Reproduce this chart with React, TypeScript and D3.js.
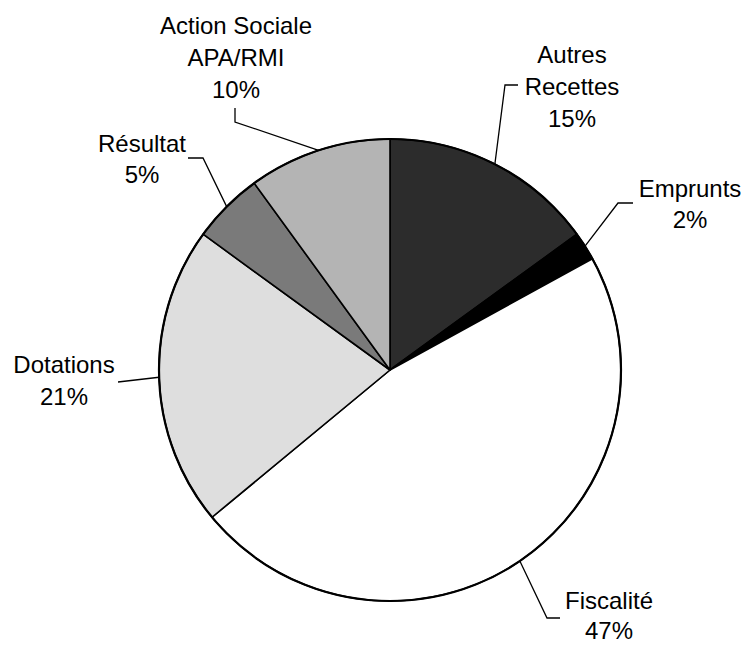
import React from "react";
import * as d3 from "d3";

const categories = ["Autres Recettes", "Emprunts", "Fiscalité", "Dotations", "Résultat", "Action Sociale APA/RMI"];
const values = [15, 2, 47, 21, 5, 10];
const labelLines = [
  ["Autres", "Recettes", "15%"],
  ["Emprunts", "2%"],
  ["Fiscalité", "47%"],
  ["Dotations", "21%"],
  ["Résultat", "5%"],
  ["Action Sociale", "APA/RMI", "10%"],
];
const fills = ["#2c2c2c", "#000000", "#ffffff", "#dedede", "#7a7a7a", "#b4b4b4"];

// layout (label anchors and leader elbows)
const W = 744, H = 645;
const CX = 390, CY = 370, R = 231;
const labelLayout = [
  { cx: 572, base: 63, lh: 32, leader: [[505, 85], [518, 85]] },
  { cx: 690, base: 197, lh: 31, leader: [[618, 203], [633, 203]] },
  { cx: 609, base: 609, lh: 30, leader: [[547, 618], [560, 618]] },
  { cx: 64, base: 373, lh: 32, leader: [[118, 382]] },
  { cx: 142, base: 152, lh: 31, leader: [[203, 158], [188, 158]] },
  { cx: 236, base: 34, lh: 32, leader: [[235, 122], [235, 108]] },
];

export default function App() {
  const data = categories.map((c, i) => ({ c, v: values[i], i }));
  const pie = d3.pie<any>().sort(null).value((d: any) => d.v).startAngle(0).endAngle(2 * Math.PI);
  const arcs = pie(data);
  const arcGen = d3.arc<any>().innerRadius(0).outerRadius(R);
  const line = d3.line();

  return (
    <svg width={W} height={H} style={{ position: "absolute", left: 0, top: 0, background: "#fff" }}
      fontFamily="'Liberation Sans', Arial, sans-serif">
      <g transform={`translate(${CX},${CY})`}>
        {arcs.map((a, i) => (
          <path key={i} d={arcGen(a) as string} fill={fills[i]} stroke="#000" strokeWidth={1.6} strokeLinejoin="round" />
        ))}
        <circle r={R} fill="none" stroke="#000" strokeWidth={2.2} />
      </g>
      {arcs.map((a, i) => {
        const mid = (a.startAngle + a.endAngle) / 2;
        const ex = CX + R * Math.sin(mid);
        const ey = CY - R * Math.cos(mid);
        const pts: [number, number][] = [[ex, ey], ...(labelLayout[i].leader as [number, number][])];
        return <path key={"l" + i} d={line(pts) as string} fill="none" stroke="#000" strokeWidth={1.3} />;
      })}
      {labelLines.map((lines, i) => (
        <text key={"t" + i} textAnchor="middle" fontSize={24} fill="#000">
          {lines.map((t, j) => (
            <tspan key={j} x={labelLayout[i].cx} y={labelLayout[i].base + j * labelLayout[i].lh}>{t}</tspan>
          ))}
        </text>
      ))}
    </svg>
  );
}
